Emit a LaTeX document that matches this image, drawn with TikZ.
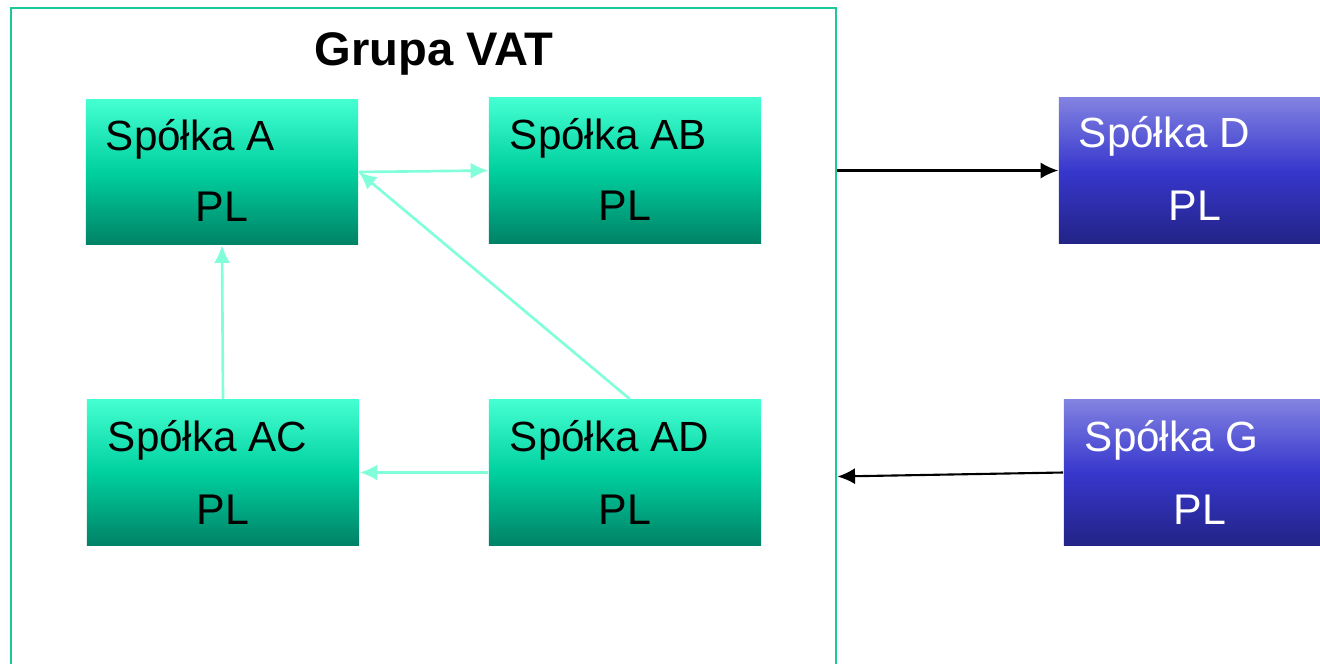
\documentclass[tikz,border=0pt]{standalone}
\usepackage{fontspec}
\setmainfont{Liberation Sans}
\usepackage{tikz}
\usetikzlibrary{arrows.meta,calc,positioning}
\definecolor{vatframe}{RGB}{30,200,150}
\definecolor{aquatop}{RGB}{68,255,210}
\definecolor{aquamid}{RGB}{0,208,158}
\definecolor{aquabot}{RGB}{0,130,102}
\definecolor{bluetop}{RGB}{130,130,225}
\definecolor{bluemid}{RGB}{55,55,205}
\definecolor{bluebot}{RGB}{35,35,135}
\definecolor{linkaqua}{RGB}{128,255,218}

\tikzset{
  firma/.style={rectangle, inner sep=0pt, minimum width=2.72cm, minimum height=1.45cm},
  firmavat/.style={firma, top color=aquatop, bottom color=aquabot, middle color=aquamid},
  firmaout/.style={firma, top color=bluetop, bottom color=bluebot, middle color=bluemid},
  nazwa/.style={anchor=base west, inner sep=0pt, font=\fontsize{12}{14}\selectfont},
  kraj/.style={anchor=base, inner sep=0pt, font=\fontsize{12.2}{14}\selectfont},
  link/.style={draw=linkaqua, line width=0.75pt, -{Latex[length=5pt,width=4.6pt]}},
  linkout/.style={draw=black, line width=0.6pt, -{Latex[length=5pt,width=4.6pt]}}
}

\begin{document}
\begin{tikzpicture}[x=0.01cm, y=-0.01cm]
   \clip (0,0) rectangle (1320,663);
   \fill[white] (0,0) rectangle (1320,663);
   % grupa VAT
   \node[draw=vatframe, line width=0.7pt, minimum width=8.25cm, minimum height=7cm] (vat) at (423.5,358) {};
   \node[anchor=base, font=\bfseries\fontsize{13.4}{16}\selectfont] (tytul) at (434,65) {Grupa VAT};

   \begin{scope}[every node/.style={firmavat}]
    \node (a) at (222,172) {};
    \node (ab) at (625,170.5) {};
    \node (ac) at (223,472.5) {};
    \node (ad) at (625,472.5) {};
   \end{scope}
   \begin{scope}[every node/.style={firmaout}]
    \node (d) at (1195,170.5) {};
    \node (g) at (1200,472.5) {};
   \end{scope}

   % opisy spolek
   \node[nazwa] (a-n) at ([shift={(20,52)}]a.north west) {Spółka A};
   \node[kraj] (a-k) at ([shift={(0,123)}]a.north) {PL};
   \node[nazwa] (ab-n) at ([shift={(21,52)}]ab.north west) {Spółka AB};
   \node[kraj] (ab-k) at ([shift={(0,123)}]ab.north) {PL};
   \node[nazwa] (ac-n) at ([shift={(21,52)}]ac.north west) {Spółka AC};
   \node[kraj] (ac-k) at ([shift={(0,125)}]ac.north) {PL};
   \node[nazwa] (ad-n) at ([shift={(21,52)}]ad.north west) {Spółka AD};
   \node[kraj] (ad-k) at ([shift={(0,125)}]ad.north) {PL};
   \node[nazwa, text=white] (d-n) at ([shift={(20,50)}]d.north west) {Spółka D};
   \node[kraj, text=white] (d-k) at ([shift={(0,123)}]d.north) {PL};
   \node[nazwa, text=white] (g-n) at ([shift={(21,52)}]g.north west) {Spółka G};
   \node[kraj, text=white] (g-k) at ([shift={(0,125)}]g.north) {PL};

   % transakcje
   \draw[link] (a.east) -- (ab.west);
   \draw[link] ([shift={(5,0)}]ad.north) -- (a.east);
   \draw[link] (ac.north) -- (a.south);
   \draw[link] (ad.west) -- (ac.east);
   \draw[linkout] (d.west -| vat.east) -- (d.west);
   \draw[linkout] (g.west) -- ($(g.west -| vat.east)+(0,4)$);
\end{tikzpicture}
\end{document}
